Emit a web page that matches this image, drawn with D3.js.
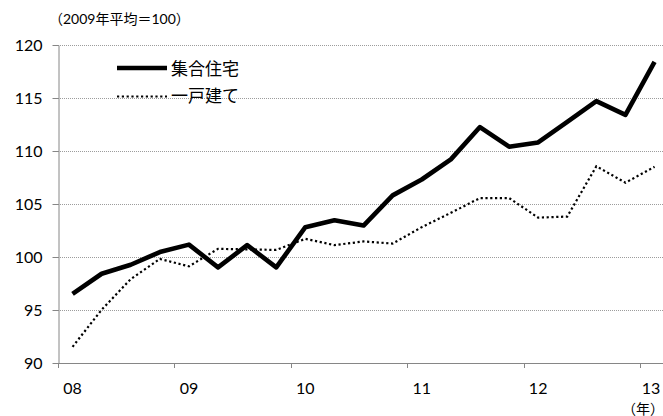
<!DOCTYPE html>
<html>
<head>
<meta charset="utf-8">
<script src="https://cdn.jsdelivr.net/npm/d3@7"></script>
<style>
  html, body { margin: 0; padding: 0; background: #fff; }
  svg { display: block; }
  text { font-family: Lato, "Noto Sans CJK JP", sans-serif; fill: #000; }
</style>
</head>
<body>
<svg id="chart" width="663" height="416"></svg>
<script>
// Quarterly index, 2009 average = 100
const quarters = [
  "08Q1","08Q2","08Q3","08Q4",
  "09Q1","09Q2","09Q3","09Q4",
  "10Q1","10Q2","10Q3","10Q4",
  "11Q1","11Q2","11Q3","11Q4",
  "12Q1","12Q2","12Q3","12Q4",
  "13Q1"
];
const condoValues = [
  96.5, 98.4, 99.25, 100.45,
  101.15, 99.0, 101.1, 99.0,
  102.8, 103.45, 102.95, 105.8,
  107.3, 109.2, 112.25, 110.4,
  110.8, 112.75, 114.7, 113.4,
  118.4
];
const houseValues = [
  91.5, 95.0, 97.9, 99.8,
  99.1, 100.75, 100.7, 100.65,
  101.7, 101.1, 101.45, 101.25,
  102.8, 104.15, 105.55, 105.55,
  103.7, 103.8, 108.55, 107.0,
  108.5
];
const yearLabels = ["08", "09", "10", "11", "12", "13"];
const yTicks = [90, 95, 100, 105, 110, 115, 120];
const seriesNames = ["集合住宅", "一戸建て"];
const titleText = "（2009年平均＝100）";
const unitText = "（年）";

const svg = d3.select("#chart");
const W = 663;
const plotLeft = 58, plotTop = 45, plotBottom = 362.7;
const bandW = 29.1;

const x = d3.scaleBand()
  .domain(quarters)
  .range([plotLeft, plotLeft + bandW * quarters.length])
  .padding(0);
const xc = q => x(q) + x.bandwidth() / 2;

const y = d3.scaleLinear().domain([90, 120]).range([plotBottom, plotTop]);
const py = v => Math.round(y(v)) + 0.5;

// horizontal dotted gridlines
svg.append("g")
  .selectAll("line")
  .data(yTicks.filter(v => v > 90))
  .join("line")
  .attr("x1", plotLeft).attr("x2", W)
  .attr("y1", d => py(d)).attr("y2", d => py(d))
  .attr("stroke", "#9c9c9c")
  .attr("stroke-width", 1)
  .attr("stroke-dasharray", "1 1");

// y axis
const yAxis = d3.axisLeft(y).tickValues(yTicks).tickSize(6).tickSizeOuter(0).tickPadding(10);
const gy = svg.append("g").attr("transform", `translate(${plotLeft + 0.5},0)`).call(yAxis);
gy.select(".domain").attr("stroke", "#868686");
gy.selectAll(".tick line").attr("stroke", "#868686");
gy.selectAll(".tick").attr("transform", d => `translate(0,${py(d)})`);
gy.selectAll(".tick text")
  .style("font-size", "16px")
  .style("font-family", "Lato, sans-serif")
  .attr("fill", "#000");

// x axis: tick marks on year boundaries, labels under each year's first quarter
const yearStarts = quarters.filter(q => q.endsWith("Q1"));
const xAxis = d3.axisBottom(x).tickValues(yearStarts).tickSize(5).tickSizeOuter(0).tickFormat("");
const gx = svg.append("g").attr("transform", `translate(0,${py(90) - 0.5})`).call(xAxis);
gx.select(".domain").attr("stroke", "#868686").attr("d", `M${plotLeft},0.5H${W}`);
gx.selectAll(".tick")
  .attr("transform", d => `translate(${Math.round(x(d)) + 0.5},0)`);
gx.selectAll(".tick line").attr("stroke", "#868686");

svg.append("g")
  .selectAll("text")
  .data(yearStarts)
  .join("text")
  .attr("x", d => Math.min(xc(d), W - 12))
  .attr("y", 394)
  .attr("text-anchor", "middle")
  .style("font-size", "16px")
  .text((d, i) => yearLabels[i]);

svg.append("text")
  .attr("x", W + 1)
  .attr("y", 414)
  .attr("text-anchor", "end")
  .style("font-size", "14px")
  .text(unitText);

// title / unit note
svg.append("text")
  .attr("x", 49)
  .attr("y", 24)
  .style("font-size", "14px")
  .text(titleText);

// series lines
const line = d3.line().x((d, i) => xc(quarters[i])).y(d => y(d));

svg.append("path")
  .datum(houseValues)
  .attr("d", line)
  .attr("fill", "none")
  .attr("stroke", "#000")
  .attr("stroke-width", 2.2)
  .attr("stroke-dasharray", "2.2 2.6");

svg.append("path")
  .datum(condoValues)
  .attr("d", line)
  .attr("fill", "none")
  .attr("stroke", "#000")
  .attr("stroke-width", 4.6)
  .attr("stroke-linejoin", "round");

// legend
const legend = svg.append("g");
legend.append("line")
  .attr("x1", 117).attr("x2", 167).attr("y1", 68).attr("y2", 68)
  .attr("stroke", "#000").attr("stroke-width", 4.6);
legend.append("line")
  .attr("x1", 117).attr("x2", 167).attr("y1", 96.5).attr("y2", 96.5)
  .attr("stroke", "#000").attr("stroke-width", 2.2)
  .attr("stroke-dasharray", "2.2 2.6");
legend.append("text")
  .attr("x", 171).attr("y", 68)
  .attr("dominant-baseline", "central")
  .style("font-size", "17px")
  .text(seriesNames[0]);
legend.append("text")
  .attr("x", 171).attr("y", 95)
  .attr("dominant-baseline", "central")
  .style("font-size", "17px")
  .text(seriesNames[1]);
</script>
</body>
</html>
